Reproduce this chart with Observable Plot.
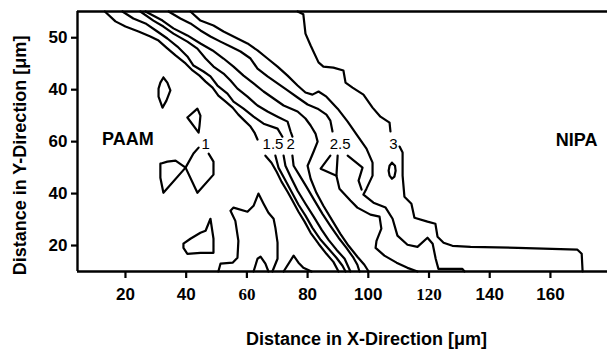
<!DOCTYPE html>
<html>
<head>
<meta charset="utf-8">
<script src="https://cdn.jsdelivr.net/npm/d3@7"></script>
<script src="https://cdn.jsdelivr.net/npm/@observablehq/plot@0.6"></script>
<style>
  html, body { margin: 0; padding: 0; background: #fff; }
  #chart svg { display: block; }
</style>
</head>
<body>
<div id="chart"></div>
<script>
// ---- tick values / labels ----
const xTicks = [20, 40, 60, 80, 100, 120, 140, 160];
const serifXTicks = ["60", "120"];
const yTickValues = [20, 40, 60, 80, 100];
const yTickLabels = ["20", "40", "60", "40", "50"];

// ---- contour lines, [x (µm), y (stacked scale)] ----
const lineA = [[13.2,110.1],[16.7,106.3],[20.0,104.3],[24.3,102.4],[28.2,100.5],[30.9,98.9],[33.5,96.2],[36.5,93.2],[39.8,90.1],[42.1,87.4],[44.4,85.4],[46.4,83.1],[48.7,80.8],[50.6,77.7],[53.0,75.4],[55.3,73.1],[57.2,70.4],[59.2,68.1],[61.2,65.8],[62.5,63.5],[63.5,60.8]];
const lineB = [[19.0,110.1],[22.6,107.4],[26.6,105.5],[30.5,102.4],[33.8,99.7],[37.1,96.6],[40.4,92.8],[42.4,89.3],[45.7,87.0],[48.0,85.1],[50.3,81.6],[53.6,78.5],[55.6,75.4],[58.9,72.7],[62.2,69.6],[65.5,66.9],[70.1,65.0],[71.7,61.9]];
const lineC = [[24.9,110.1],[29.2,106.6],[32.5,104.3],[35.8,101.6],[40.4,98.5],[43.7,95.8],[46.4,92.0],[49.0,88.9],[52.3,86.2],[54.6,83.5],[56.9,80.4],[60.2,77.3],[63.5,73.9],[66.8,71.6],[70.1,69.6],[73.4,67.7],[74.4,63.9],[75.0,61.9]];
const lineD = [[26.6,110.1],[32.2,106.6],[35.8,103.6],[40.4,100.9],[44.7,97.8],[48.7,95.1],[52.3,92.0],[55.6,88.9],[58.9,85.4],[62.2,82.4],[65.5,79.3],[68.8,76.6],[72.1,73.9],[76.7,71.6],[79.3,68.9],[81.0,66.2],[82.6,63.1],[83.3,60.0],[82.0,56.2],[81.0,53.4],[80.0,50.7],[81.0,45.7],[82.9,40.3],[85.2,35.3],[88.2,29.5],[90.8,24.5],[93.5,19.9],[96.4,15.7],[98.7,12.6],[100.1,10]];
const lineE = [[34.2,110.1],[38.1,107.4],[41.4,105.5],[44.7,102.8],[48.0,100.5],[51.3,98.5],[54.6,96.6],[57.9,94.7],[61.2,92.0],[63.5,88.1],[66.8,85.1],[70.1,82.4],[73.4,79.7],[76.7,77.0],[80.0,74.3],[83.3,72.7],[86.2,70.4],[87.5,68.1],[88.2,63.9]];
const lineF = [[41.4,110.1],[44.7,106.6],[49.0,104.7],[52.3,102.4],[56.9,99.7],[60.2,97.8],[63.5,95.1],[66.8,92.0],[70.1,88.9],[73.4,85.4],[76.7,81.6],[79.3,78.9],[81.6,78.1],[83.6,79.3],[86.2,77.3],[89.9,72.7],[93.2,67.7],[96.4,62.3],[99.4,57.3],[101.4,51.9],[101.4,46.9],[99.4,41.9],[98.4,39.6],[101.7,36.5],[105.7,34.6],[108.0,30.3],[109.6,23.8],[112.9,20.3],[116.2,19.5],[119.5,23.0],[121.2,20.7],[122.2,14.9],[123.1,11.0],[127.1,11.0],[131.0,11.0],[131.7,10]];
const lineL1 = [[66.1,54.6],[68.1,51.9],[69.8,48.4],[71.4,44.6],[73.4,40.7],[75.0,37.3],[77.0,33.0],[79.0,29.2],[81.0,24.9],[83.6,20.7],[86.2,16.8],[88.5,13.7],[90.2,10]];
const lineL2 = [[69.4,54.6],[70.4,50.0],[72.4,45.7],[74.7,40.7],[77.0,35.7],[79.3,31.5],[81.6,26.8],[84.3,22.2],[86.9,18.8],[89.5,15.3],[91.5,12.2],[92.5,10]];
const lineL3 = [[72.1,54.6],[72.7,50.7],[74.4,46.5],[76.7,41.1],[79.3,36.1],[82.0,31.1],[84.6,26.1],[86.9,22.2],[89.5,18.4],[92.2,14.9],[94.1,10]];
const lineL4 = [[75.0,54.6],[75.4,50.7],[77.4,46.9],[79.6,42.7],[82.3,37.3],[84.9,32.2],[87.5,27.6],[90.2,23.0],[92.8,19.1],[95.1,15.3],[96.4,12.6],[97.1,10]];
const lineElow = [[89.9,54.6],[89.5,46.9],[90.5,41.9],[94.1,37.3],[96.4,34.6],[100.7,31.9],[103.7,31.1],[104.3,26.5],[102.7,21.8],[102.4,19.1],[105.3,16.1],[109.3,13.4],[112.9,11.4],[116.2,10]];
const tri25 = [[87.5,54.6],[84.3,49.6],[89.5,46.9]];
const gt25 = [[93.2,54.6],[98.1,50.0],[96.8,45.0],[97.8,41.5]];
const c3Up = [[76.7,110.1],[78.6,109.0],[79.3,101.6],[81.0,97.0],[83.6,90.5],[85.2,88.9],[88.5,88.5],[91.8,87.4],[92.5,82.7],[94.8,80.8],[98.4,78.1],[101.4,73.1],[104.0,69.6],[107.0,67.3],[107.3,63.9]];
const c3Low = [[110.3,58.1],[111.3,55.8],[111.3,46.9],[111.9,38.8],[114.2,36.1],[115.2,30.7],[119.5,29.2],[122.1,28.4],[122.8,23.4],[124.8,21.1],[127.7,19.9],[133.7,19.5],[149.2,19.1],[168.9,18.4],[170.3,16.8],[170.6,10]];
const c3Oval = [[107.8,51.9],[108.8,50.7],[109.0,48.8],[108.6,46.5],[107.8,45.7],[107.0,46.9],[106.7,48.8],[107.0,50.7],[107.8,51.9]];
const lens = [[32.5,84.7],[33.8,82.7],[34.8,79.7],[33.5,75.8],[32.2,73.1],[30.9,77.3],[30.9,80.4],[31.5,82.7],[32.5,84.7]];
const tri2 = [[40.4,69.3],[43.7,72.7],[44.7,70.0],[44.4,66.2],[44.1,63.5],[40.4,69.3]];
const bowL = [[31.5,51.5],[33.8,52.3],[36.5,52.7],[39.8,50.0],[32.5,40.3],[31.5,46.1],[31.5,51.5]];
const bowR = [[44.1,57.7],[42.4,55.4],[39.8,50.0],[43.7,40.3],[49.0,47.3],[49.0,52.3],[47.4,55.4]];
const islandT = [[39.1,20.7],[41.4,22.6],[44.7,24.9],[46.4,25.7],[48.0,30.3],[49.0,22.6],[49.0,17.2],[44.7,17.2],[40.4,16.8],[39.1,19.1],[39.1,20.7]];
const islandBig = [[50.6,10],[51.3,13.0],[55.3,13.4],[56.9,15.3],[57.2,21.8],[56.2,29.5],[54.6,33.4],[55.6,34.6],[60.2,33.0],[62.2,35.3],[63.8,40.0],[65.5,36.1],[67.1,32.6],[68.8,30.3],[69.4,26.8],[70.1,21.1],[70.1,14.9],[68.4,10]];
const bump1 = [[62.2,10],[63.5,14.9],[64.5,15.7],[66.1,13.0],[67.1,10]];
const bump2 = [[72.1,10],[75.4,16.1],[77.0,13.4],[78.6,11.4],[81.3,10]];

// ---- labels ----
const contourLabels = ["1", "1.5", "2", "2.5", "3"];
const contourLabelX = [46.4, 68.6, 74.4, 90.7, 108.3];
const contourLabelY = [59.2, 59.2, 59.2, 59.2, 59.2];
const regionLabels = ["PAAM", "NIPA"];
const regionLabelX = [20.8, 168.6];
const regionLabelY = [60.8, 60.4];
const xTitle = "Distance in X-Direction [\u03bcm]";
const yTitle = "Distance in Y-Direction [\u03bcm]";

const contourSet = {lineA, lineB, lineC, lineD, lineE, lineF, lineL1, lineL2, lineL3, lineL4,
  lineElow, tri25, gt25, c3Up, c3Low, c3Oval, lens, tri2, bowL, bowR, islandT, islandBig, bump1, bump2};
const rows = Object.entries(contourSet).flatMap(([id, pts]) => pts.map(([x, y]) => ({id, x, y})));
const cLab = contourLabels.map((t, i) => ({t, x: contourLabelX[i], y: contourLabelY[i]}));
const rLab = regionLabels.map((t, i) => ({t, x: regionLabelX[i], y: regionLabelY[i]}));

const X0 = 4.2, X1 = 178.8, Y0 = 10, Y1 = 110.1;

const chart = Plot.plot({
  width: 608,
  height: 350,
  marginLeft: 77,
  marginRight: 1,
  marginTop: 11,
  marginBottom: 79,
  style: {fontFamily: "'Liberation Sans', Arial, sans-serif", background: "#fff", color: "#000", overflow: "visible"},
  x: {domain: [X0, X1]},
  y: {domain: [Y0, Y1]},
  marks: [
    Plot.line(rows, {x: "x", y: "y", z: "id", stroke: "#000", strokeWidth: 2.2, strokeLinejoin: "round", strokeLinecap: "round"}),
    Plot.ruleY([Y1], {stroke: "#000", strokeWidth: 2.4}),
    Plot.ruleY([Y0], {stroke: "#000", strokeWidth: 2.4}),
    Plot.ruleX([X0], {stroke: "#000", strokeWidth: 2.4}),
    Plot.text(cLab, {x: "x", y: "y", text: "t", fontSize: 15, fill: "#000"}),
    Plot.text(rLab, {x: "x", y: "y", text: "t", fontSize: 18, fontWeight: "bold", fill: "#000"}),
    Plot.axisX({ticks: xTicks, tickSize: 7, tickPadding: 9, strokeWidth: 2.2, fontSize: 17, fontWeight: "bold", label: null}),
    Plot.axisY({ticks: yTickValues, tickFormat: d => yTickLabels[yTickValues.indexOf(d)], tickSize: 6, tickPadding: 4, strokeWidth: 2.2, fontSize: 17, fontWeight: "bold", label: null}),
    Plot.text([xTitle], {frameAnchor: "bottom", lineAnchor: "middle", textAnchor: "middle", dx: 24, dy: 68, fontSize: 18, fontWeight: "bold", fill: "#000"}),
    Plot.text([yTitle], {frameAnchor: "left", lineAnchor: "middle", textAnchor: "middle", rotate: -90, dx: -57, dy: 14, fontSize: 18, fontWeight: "bold", fill: "#000"})
  ]
});

// the reference sets two x tick labels in a serif face
chart.querySelectorAll('g[aria-label="x-axis tick label"] text').forEach(t => {
  if (serifXTicks.includes(t.textContent.trim())) t.setAttribute("font-family", "'Liberation Serif', 'Times New Roman', serif");
});
document.getElementById("chart").appendChild(chart);
</script>
</body>
</html>
